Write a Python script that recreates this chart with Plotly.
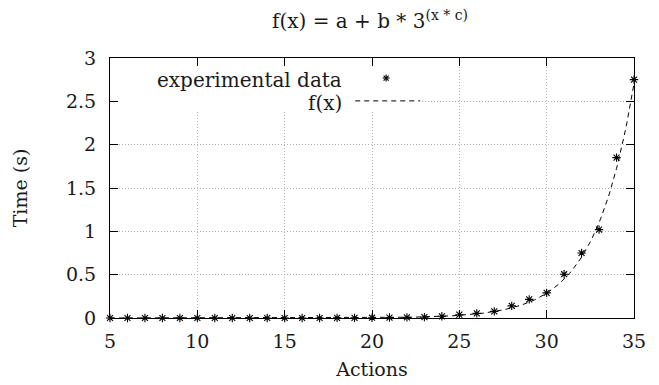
import numpy as np
import plotly.graph_objects as go

# experimental data
actions = [5, 6, 7, 8, 9, 10, 11, 12, 13, 14, 15, 16, 17, 18, 19, 20,
           21, 22, 23, 24, 25, 26, 27, 28, 29, 30, 31, 32, 33, 34, 35]
times = [0.0, 0.0, 0.0, 0.0, 0.0, 0.0, 0.0, 0.0, 0.0, 0.0, 0.0, 0.0, 0.0, 0.001, 0.002, 0.003,
         0.005, 0.007, 0.01, 0.02, 0.038, 0.053, 0.077, 0.14, 0.215, 0.29, 0.505, 0.75, 1.02, 1.85, 2.75]

# fitted parameters of f(x) = a + b * 3^(x*c)
fit_a = 0.0
fit_b = 4.0e-7
fit_c = 0.409

x_ticks = [5, 10, 15, 20, 25, 30, 35]
y_ticks = [0, 0.5, 1, 1.5, 2, 2.5, 3]

x_fit = np.linspace(5, 35, 301)
y_fit = fit_a + fit_b * np.power(3.0, x_fit * fit_c)

FONT = "DejaVu Serif"
TXT = "#1a1a1a"

fig = go.Figure()
fig.add_trace(go.Scatter(x=x_fit, y=y_fit, mode="lines",
                         line=dict(color="black", width=1, dash="5px,4px"),
                         showlegend=False, hoverinfo="skip"))
fig.add_trace(go.Scatter(x=actions, y=times, mode="markers",
                         marker=dict(symbol="asterisk-open", size=7, color="black",
                                     line=dict(color="black", width=1.1)),
                         showlegend=False, cliponaxis=False))

axis_common = dict(showline=True, linecolor="black", linewidth=1.2, mirror="ticks",
                   ticks="inside", ticklen=8, tickcolor="black", tickwidth=1,
                   showgrid=True, gridcolor="#b0b0b0", gridwidth=1, griddash="1px,2px",
                   zeroline=False, automargin=False,
                   tickfont=dict(family=FONT, size=19, color=TXT))

fig.update_xaxes(range=[5, 35], tickvals=x_ticks, ticklabelstandoff=6,
                 title=dict(text="Actions", font=dict(family=FONT, size=19, color=TXT), standoff=11),
                 **axis_common)
fig.update_yaxes(range=[0, 3], tickvals=y_ticks, ticklabelstandoff=9,
                 title=dict(text="Time (s)", font=dict(family=FONT, size=19, color=TXT), standoff=33),
                 **axis_common)

# opaque key box hiding the grid (between grid and traces)
shapes = [dict(type="rect", xref="x", yref="y", x0=5, x1=22.76, y0=2.4, y1=3,
               fillcolor="white", line=dict(width=0), layer="between")]
# dashed key sample
shapes.append(dict(type="line", xref="paper", yref="paper", x0=0.468, x1=0.592,
                   y0=0.835, y1=0.835, line=dict(color="black", width=1, dash="5px,4px")))
# asterisk key sample
kx, ky = 0.527, 0.923
for dx, dy in [(3.5, 0), (0, 3.5), (2.5, 2.5), (2.5, -2.5)]:
    shapes.append(dict(type="line", xref="paper", yref="paper", xsizemode="pixel", ysizemode="pixel",
                       xanchor=kx, yanchor=ky, x0=-dx, x1=dx, y0=-dy, y1=dy,
                       line=dict(color="black", width=1.1)))

annotations = [
    dict(text="experimental data", xref="paper", yref="paper", x=0.446, y=0.915,
         xanchor="right", yanchor="middle", showarrow=False,
         font=dict(family=FONT, size=20, color=TXT)),
    dict(text="f(x)", xref="paper", yref="paper", x=0.446, y=0.827,
         xanchor="right", yanchor="middle", showarrow=False,
         font=dict(family=FONT, size=20, color=TXT)),
]

# page adds an 8px body margin, so the figure is sized to place the plot like the reference
fig.update_layout(
    width=651, height=377,
    margin=dict(l=102, r=25, t=50, b=67, autoexpand=False),
    paper_bgcolor="white", plot_bgcolor="white",
    title=dict(text="f(x) = a + b * 3<sup>(x * c)</sup>", x=(370 - 8) / 651, xanchor="center",
               y=1 - 13 / 377, yanchor="middle", font=dict(family=FONT, size=20, color=TXT)),
    shapes=shapes, annotations=annotations,
)

fig.write_html("out.html")
